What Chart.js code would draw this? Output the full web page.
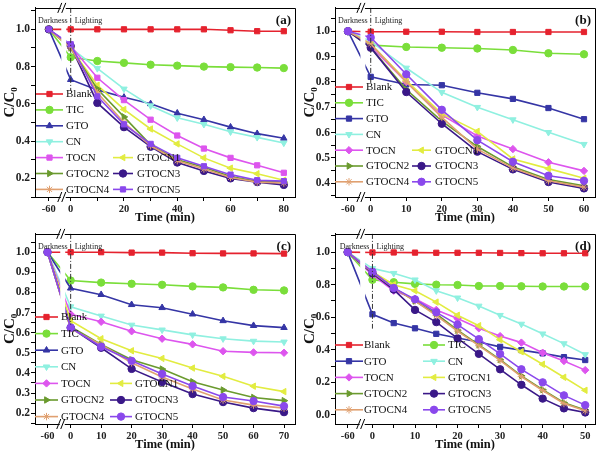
<!DOCTYPE html>
<html><head><meta charset="utf-8">
<script src="https://cdn.jsdelivr.net/npm/chart.js@4"></script>
<style>
html,body{margin:0;padding:0;background:#fff;}
#wrap{position:relative;width:600px;height:453px;}
.p{position:absolute;}
</style></head><body>
<div id="wrap">
<div class="p" style="left:0;top:0;width:300px;height:226px"><canvas id="ca"></canvas></div>
<div class="p" style="left:300px;top:0;width:300px;height:226px"><canvas id="cb"></canvas></div>
<div class="p" style="left:0;top:226px;width:300px;height:227px"><canvas id="cc"></canvas></div>
<div class="p" style="left:300px;top:226px;width:300px;height:227px"><canvas id="cd"></canvas></div>
</div>
<script>
// ---------- DATA ----------
const seriesNames = ['Blank','TIC','GTO','CN','TOCN','GTOCN1','GTOCN2','GTOCN3','GTOCN4','GTOCN5'];
const panelLabels = ['(a)','(b)','(c)','(d)'];

const timeA = [-60,0,10,20,30,40,50,60,70,80];
const valuesA = [
  [1,1,1,1,1,1,1,0.995,0.99,0.99],
  [1,0.85,0.83,0.82,0.81,0.805,0.80,0.797,0.795,0.792],
  [1,0.73,0.675,0.635,0.60,0.55,0.515,0.475,0.44,0.415],
  [1,0.90,0.79,0.68,0.59,0.525,0.49,0.45,0.42,0.39],
  [1,0.91,0.74,0.62,0.515,0.43,0.36,0.31,0.27,0.23],
  [1,0.90,0.70,0.57,0.465,0.385,0.31,0.255,0.225,0.19],
  [1,0.90,0.68,0.53,0.38,0.30,0.26,0.21,0.185,0.18],
  [1,0.91,0.605,0.475,0.37,0.285,0.24,0.20,0.18,0.165],
  [1,0.90,0.66,0.50,0.375,0.295,0.25,0.205,0.18,0.175],
  [1,0.92,0.64,0.49,0.385,0.31,0.265,0.22,0.19,0.185]
];

const timeB = [-60,0,10,20,30,40,50,60];
const valuesB = [
  [1,0.998,0.998,0.998,0.997,0.997,0.997,0.997],
  [1,0.945,0.938,0.935,0.932,0.926,0.913,0.909],
  [1,0.82,0.79,0.787,0.757,0.733,0.697,0.653],
  [1,0.96,0.855,0.759,0.70,0.651,0.601,0.554],
  [1,0.94,0.80,0.67,0.587,0.535,0.483,0.449],
  [1,0.95,0.805,0.675,0.605,0.496,0.458,0.42],
  [1,0.935,0.77,0.645,0.545,0.465,0.415,0.39],
  [1,0.935,0.76,0.635,0.525,0.455,0.405,0.38],
  [1,0.95,0.80,0.66,0.535,0.46,0.41,0.385],
  [1,0.975,0.83,0.69,0.57,0.485,0.43,0.41]
];

const timeC = [-60,0,10,20,30,40,50,60,70];
const valuesC = [
  [1,1,1,0.998,0.998,0.995,0.994,0.994,0.993],
  [1,0.859,0.849,0.843,0.838,0.83,0.825,0.813,0.81],
  [1,0.821,0.789,0.739,0.724,0.692,0.659,0.635,0.625],
  [1,0.729,0.683,0.638,0.614,0.589,0.57,0.558,0.554],
  [1,0.692,0.654,0.607,0.57,0.542,0.508,0.502,0.50],
  [1,0.66,0.57,0.51,0.472,0.424,0.383,0.334,0.307],
  [1,0.63,0.542,0.465,0.419,0.356,0.315,0.278,0.262],
  [1,0.625,0.525,0.42,0.355,0.295,0.255,0.225,0.205],
  [1,0.62,0.54,0.45,0.38,0.32,0.265,0.24,0.225],
  [1,0.625,0.53,0.46,0.395,0.335,0.28,0.26,0.235]
];

const timeD = [-60,0,5,10,15,20,25,30,35,40,45,50];
const valuesD = [
  [1,0.998,0.998,0.997,0.996,0.996,0.996,0.995,0.994,0.993,0.993,0.993],
  [1,0.83,0.815,0.805,0.80,0.798,0.792,0.792,0.79,0.789,0.789,0.789],
  [1,0.618,0.564,0.532,0.498,0.472,0.448,0.418,0.398,0.378,0.355,0.337],
  [1,0.90,0.87,0.83,0.763,0.719,0.669,0.612,0.558,0.498,0.438,0.371],
  [1,0.86,0.763,0.713,0.645,0.592,0.532,0.484,0.444,0.382,0.331,0.275],
  [1,0.88,0.80,0.763,0.693,0.612,0.548,0.462,0.388,0.311,0.231,0.151],
  [1,0.87,0.78,0.70,0.62,0.52,0.43,0.34,0.24,0.155,0.075,0.03],
  [1,0.87,0.77,0.645,0.57,0.47,0.375,0.28,0.185,0.10,0.04,0.015],
  [1,0.875,0.78,0.70,0.61,0.515,0.425,0.335,0.235,0.15,0.07,0.025],
  [1,0.88,0.78,0.71,0.63,0.555,0.465,0.375,0.28,0.20,0.12,0.06]
];

// ---------- STYLE ----------
const FONT = "'Liberation Serif', 'Times New Roman', serif";
const colors = ['#e5222e','#7ade3a','#3535a5','#8ff0e0','#dd55ee','#e2ec40','#6a9a2e','#3a1888','#e0a070','#8a48ec'];
const markerDefs = {
  rect:{style:'rect',rot:0}, circle:{style:'circle',rot:0}, tri:{style:'triangle',rot:0},
  triDown:{style:'triangle',rot:180}, triLeft:{style:'triangle',rot:270}, triRight:{style:'triangle',rot:90},
  diamond:{style:'rectRot',rot:0}, star:{style:'star',rot:0}
};
const markersA = ['rect','circle','tri','triDown','rect','triLeft','triRight','circle','star','rect'];
const markersB = ['rect','circle','rect','triDown','diamond','triLeft','triRight','circle','star','circle'];
const markersC = ['rect','circle','tri','triDown','diamond','triLeft','triRight','circle','star','circle'];
const markersD = ['rect','circle','rect','triDown','diamond','triLeft','triRight','circle','star','circle'];

function range(a, b, s) { const r = []; for (let v = a; v <= b + 1e-9; v += s) r.push(+v.toFixed(4)); return r; }

const panels = [
  {id:'ca', time:timeA, values:valuesA, markers:markersA, label:panelLabels[0],
   negPos:-8.2, breakPos:-2.6, xmin:-13.4, xmax:84.2, xticks:range(0,80,10), xLabelStep:20,
   ymin:0.10, ymax:1.115, yticks:range(0.1,1.1,0.1), yLabelStep:0.2, dashTo:0.67,
   legend:{mode:'mixed', y0:94, dy:15.9, cols:[[36,63,66],[113,133,137]]}},
  {id:'cb', time:timeB, values:valuesB, markers:markersB, label:panelLabels[1],
   negPos:-6.4, breakPos:-2.2, xmin:-10.05, xmax:63.1, xticks:range(0,60,10), xLabelStep:10,
   ymin:0.346, ymax:1.092, yticks:range(0.35,1.05,0.05), yLabelStep:0.1, dashTo:0.79,
   legend:{mode:'mixed', y0:87, dy:15.8, cols:[[35,63,66],[112,131,135]]}},
  {id:'cc', time:timeC, values:valuesC, markers:markersC, label:panelLabels[2],
   negPos:-7.6, breakPos:-2.6, xmin:-11.7, xmax:73.6, xticks:range(0,70,10), xLabelStep:10,
   ymin:0.146, ymax:1.091, yticks:range(0.15,1.05,0.05), yLabelStep:0.1, dashTo:0.64,
   legend:{mode:'mixed', y0:91, dy:16.6, cols:[[35,58,61],[110,132,135]]}},
  {id:'cd', time:timeD, values:valuesD, markers:markersD, label:panelLabels[3],
   negPos:-5.83, breakPos:-2.3, xmin:-8.8, xmax:52.3, xticks:range(0,50,5), xLabelStep:10,
   ymin:-0.056, ymax:1.112, yticks:range(0,1.1,0.1), yLabelStep:0.2, dashTo:0.53,
   legend:{mode:'grid', y0:119, dy:16.2, cols:[[35,63,64],[123,145,148]]}}
];

function drawMarker(ctx, style, rot, r, x, y) {
  if (Chart.helpers && Chart.helpers.drawPoint) {
    Chart.helpers.drawPoint(ctx, {pointStyle:style, rotation:rot, radius:r, borderWidth:1}, x, y);
  } else {
    ctx.beginPath(); ctx.arc(x, y, r, 0, Math.PI*2); ctx.fill(); ctx.stroke();
  }
}

const deco = {
  id:'deco',
  afterDraw(chart, args, o) {
    const {ctx, chartArea:ca} = chart;
    const x = chart.scales.x, y = chart.scales.y;
    ctx.save();
    // gap at the axis break
    const bx = x.getPixelForValue(o.breakPos);
    ctx.fillStyle = '#fff';
    ctx.fillRect(bx - 2.5, ca.top + 1, 5, ca.bottom - ca.top - 2);
    // dash-dot at t = 0
    const x0 = x.getPixelForValue(0);
    ctx.strokeStyle = '#333'; ctx.lineWidth = 1; ctx.setLineDash([5,2,1,2]);
    ctx.beginPath(); ctx.moveTo(x0, ca.top); ctx.lineTo(x0, y.getPixelForValue(o.dashTo)); ctx.stroke();
    ctx.setLineDash([]);
    // frame top/right
    ctx.strokeStyle = '#000'; ctx.lineWidth = 1;
    ctx.beginPath();
    ctx.moveTo(ca.left, Math.round(ca.top) + 0.5);
    ctx.lineTo(Math.round(ca.right) + 0.5, Math.round(ca.top) + 0.5);
    ctx.lineTo(Math.round(ca.right) + 0.5, ca.bottom);
    ctx.stroke();
    // break marks
    [ca.top, ca.bottom].forEach(yy => {
      ctx.fillStyle = '#fff';
      ctx.fillRect(bx - 3, yy - 2, 5, 4);
      ctx.strokeStyle = '#000';
      ctx.beginPath();
      ctx.moveTo(bx - 6, yy + 5); ctx.lineTo(bx - 2, yy - 5);
      ctx.moveTo(bx - 2, yy + 5); ctx.lineTo(bx + 2, yy - 5);
      ctx.stroke();
    });
    // Darkness / Lighting
    ctx.fillStyle = '#222';
    ctx.font = "8px " + FONT;
    ctx.textBaseline = 'middle';
    ctx.textAlign = 'right'; ctx.fillText('Darkness', x0 - 3, ca.top + 13);
    ctx.textAlign = 'left'; ctx.fillText('Lighting', x0 + 4, ca.top + 13);
    // panel label
    ctx.font = "bold 13px " + FONT;
    ctx.textAlign = 'right'; ctx.fillStyle = '#111';
    ctx.fillText(o.label, ca.right - 4, ca.top + 13);
    // legend
    const L = o.legend;
    ctx.font = "11px " + FONT;
    ctx.textAlign = 'left';
    chart.data.datasets.forEach((ds, i) => {
      let col, row;
      if (L.mode === 'grid') { col = i % 2; row = Math.floor(i / 2); }
      else if (i < 4) { col = 0; row = i; }
      else { col = (i - 4) % 2; row = 4 + Math.floor((i - 4) / 2); }
      const c = L.cols[col];
      const ly = L.y0 + row * L.dy;
      ctx.strokeStyle = ds.borderColor; ctx.lineWidth = 1.6;
      ctx.beginPath(); ctx.moveTo(c[0], ly); ctx.lineTo(c[1], ly); ctx.stroke();
      ctx.fillStyle = ds.backgroundColor; ctx.lineWidth = 1;
      drawMarker(ctx, ds.pointStyle, ds.pointRotation, 3.7, (c[0] + c[1]) / 2, ly);
      ctx.fillStyle = '#111';
      ctx.fillText(ds.label, c[2], ly + 0.5);
    });
    ctx.restore();
  }
};

function makeChart(P) {
  const datasets = seriesNames.map((name, i) => {
    const m = markerDefs[P.markers[i]];
    return {
      label: name,
      data: P.time.map((t, k) => ({x: t < 0 ? P.negPos : t, y: P.values[i][k]})),
      borderColor: colors[i], backgroundColor: colors[i],
      borderWidth: 1.6, pointStyle: m.style, pointRotation: m.rot,
      pointRadius: 3.7, pointBorderWidth: 1, tension: 0,
      order: seriesNames.length - i
    };
  });
  const negLabel = String(P.time[0]);
  new Chart(document.getElementById(P.id), {
    type: 'line',
    data: {datasets},
    plugins: [deco],
    options: {
      responsive: true, maintainAspectRatio: false, animation: false,
      layout: {padding: {top: 3, right: 3, left: 0, bottom: 0}},
      plugins: {legend: {display: false}, tooltip: {enabled: false},
        deco: {breakPos: P.breakPos, dashTo: P.dashTo, label: P.label, legend: P.legend}},
      scales: {
        x: {
          type: 'linear', min: P.xmin, max: P.xmax,
          afterBuildTicks: s => { s.ticks = [P.negPos].concat(P.xticks).map(v => ({value: v})); },
          afterFit: s => { s.height = 29; },
          ticks: {autoSkip: false, maxRotation: 0, padding: 2, color: '#222',
            font: {family: FONT, size: 10.5, weight: 'bold'},
            callback: v => v === P.negPos ? negLabel : (Math.abs(v % P.xLabelStep) < 1e-6 ? String(v) : '')},
          grid: {drawOnChartArea: false, tickLength: 4, color: '#000'},
          border: {color: '#000', width: 1},
          title: {display: true, text: 'Time (min)', color: '#111',
            font: {family: FONT, size: 12.5, weight: 'bold'}, padding: {top: 0, bottom: 1}}
        },
        y: {
          type: 'linear', min: P.ymin, max: P.ymax,
          afterBuildTicks: s => { s.ticks = P.yticks.map(v => ({value: v})); },
          afterFit: s => { s.width = 35; },
          ticks: {autoSkip: false, padding: 1, color: '#222',
            font: {family: FONT, size: 11.5, weight: 'bold'},
            callback: v => { const r = Math.round(v / P.yLabelStep); return Math.abs(v - r * P.yLabelStep) < 1e-6 ? Math.abs(v).toFixed(1) : ''; }},
          grid: {drawOnChartArea: false, tickLength: 4, color: '#000'},
          border: {color: '#000', width: 1},
          title: {display: true, text: 'C/C\u2080', color: '#111',
            font: {family: FONT, size: 15, weight: 'bold'}, padding: {top: 1, bottom: 0}}
        }
      }
    }
  });
}
panels.forEach(makeChart);
</script>
</body></html>
